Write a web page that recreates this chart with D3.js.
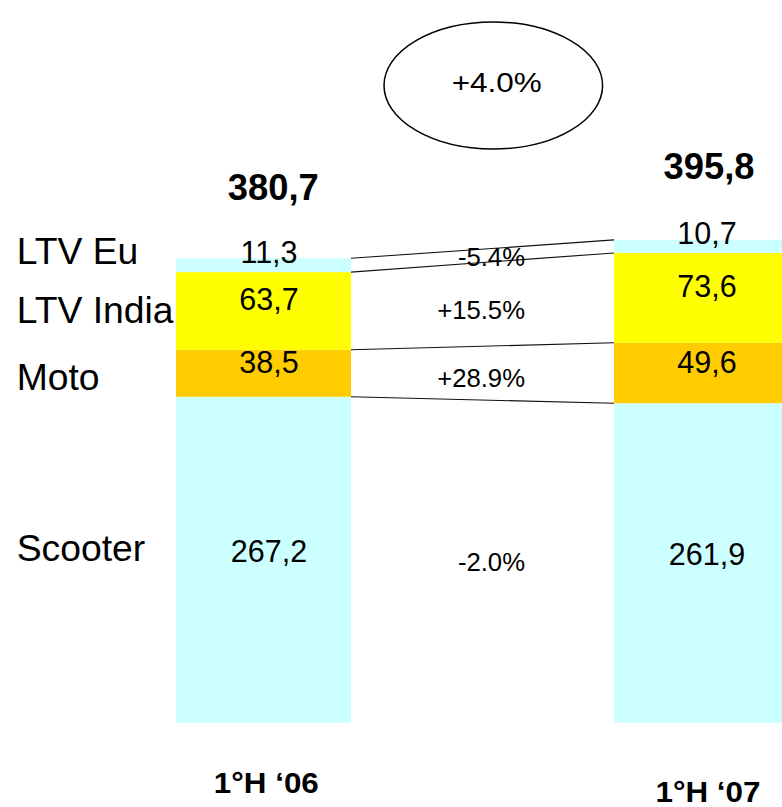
<!DOCTYPE html>
<html>
<head>
<meta charset="utf-8">
<script src="https://cdn.jsdelivr.net/npm/d3@7"></script>
<style>
  html, body { margin: 0; padding: 0; background: #fff; }
  svg { display: block; font-family: Arial, "Liberation Sans", sans-serif; }
</style>
</head>
<body>
<svg id="chart" width="782" height="807"></svg>
<script>
// ---- data ----
const categories = ["1°H \u201806", "1°H \u201807"];
const series = ["Scooter", "Moto", "LTV India", "LTV Eu"];
const scooter = [267.2, 261.9];
const moto = [38.5, 49.6];
const ltvIndia = [63.7, 73.6];
const ltvEu = [11.3, 10.7];
const totals = [380.7, 395.8];
const changes = ["-2.0%", "+28.9%", "+15.5%", "-5.4%"];
const totalChange = "+4.0%";

const colors = { "Scooter": "#CCFFFF", "Moto": "#FFCC00", "LTV India": "#FFFF00", "LTV Eu": "#CCFFFF" };

// ---- layout ----
const svg = d3.select("#chart");
const x = d3.scaleBand().domain(categories).range([176, 789]).paddingInner(263 / 438).paddingOuter(0);
const y = d3.scaleLinear().domain([0, 400]).range([722.7, 722.7 - 1.2198 * 400]);

const rows = categories.map((c, i) => ({
  cat: c, "Scooter": scooter[i], "Moto": moto[i], "LTV India": ltvIndia[i], "LTV Eu": ltvEu[i]
}));
const stacked = d3.stack().keys(series)(rows);

const locale = d3.formatLocale({ decimal: ",", thousands: ".", grouping: [3], currency: ["", ""] });
const fmt = locale.format(".1f");

// bars
const layer = svg.append("g").selectAll("g").data(stacked).join("g")
  .attr("fill", d => colors[d.key]);
layer.selectAll("rect").data(d => d.map(v => ({ v, key: d.key }))).join("rect")
  .attr("x", d => x(d.v.data.cat))
  .attr("width", x.bandwidth())
  .attr("y", d => y(d.v[1]))
  .attr("height", d => y(d.v[0]) - y(d.v[1]));

// connecting lines at the top of each segment
const x1 = x(categories[0]) + x.bandwidth();
const x2 = x(categories[1]);
svg.append("g").selectAll("line").data(stacked).join("line")
  .attr("x1", x1).attr("x2", x2)
  .attr("y1", d => y(d[0][1]))
  .attr("y2", d => y(d[1][1]))
  .attr("stroke", "#111").attr("stroke-width", 1.1);

// value labels
const valDy = { "Scooter": 2, "Moto": 0, "LTV India": -0.5, "LTV Eu": -2.5 };
svg.append("g").selectAll("g").data(stacked).join("g")
  .selectAll("text").data(d => d.map(v => ({ v, key: d.key }))).join("text")
  .attr("x", d => x(d.v.data.cat) + x.bandwidth() / 2 + 5.5)
  .attr("y", d => (y(d.v[0]) + y(d.v[1])) / 2 + valDy[d.key])
  .attr("text-anchor", "middle")
  .attr("font-size", 30.5)
  .attr("fill", "#000")
  .text(d => fmt(d.v[1] - d.v[0]));

// series names (left)
const nameDy = { "Scooter": 1, "Moto": 17, "LTV India": 11.6, "LTV Eu": -1.7 };
svg.append("g").selectAll("text").data(stacked).join("text")
  .attr("x", 16.7)
  .attr("y", d => (y(d[0][0]) + y(d[0][1])) / 2 + nameDy[d.key])
  .attr("font-size", 37.3)
  .attr("fill", "#000")
  .text(d => d.key);

// change labels
const chgDy = { "Scooter": 9.5, "Moto": 13.5, "LTV India": 15, "LTV Eu": 10.5 };
svg.append("g").selectAll("text").data(stacked).join("text")
  .attr("x", 525)
  .attr("y", (d, i) => ((y(d[0][0]) + y(d[0][1])) / 2 + (y(d[1][0]) + y(d[1][1])) / 2) / 2 + chgDy[d.key])
  .attr("text-anchor", "end")
  .attr("font-size", 25.7)
  .attr("fill", "#000")
  .text((d, i) => changes[i]);

// totals
svg.append("g").selectAll("text").data(totals).join("text")
  .attr("x", (d, i) => x(categories[i]) + x.bandwidth() / 2 + [9.8, 7.5][i])
  .attr("y", (d, i) => y(d) - [58.3, 61][i])
  .attr("text-anchor", "middle")
  .attr("font-size", 36)
  .attr("font-weight", "bold")
  .attr("textLength", 91)
  .attr("lengthAdjust", "spacingAndGlyphs")
  .attr("fill", "#000")
  .text(d => fmt(d));

// category labels
svg.append("g").selectAll("text").data(categories).join("text")
  .attr("x", (d, i) => x(d) + x.bandwidth() / 2 + [2.8, 6.5][i])
  .attr("y", (d, i) => y(0) + [70, 79][i])
  .attr("text-anchor", "middle")
  .attr("font-size", 29)
  .attr("font-weight", "bold")
  .attr("textLength", 105)
  .attr("lengthAdjust", "spacingAndGlyphs")
  .attr("fill", "#000")
  .text(d => d);

// total change ellipse
const cx = (x1 + x2) / 2 + 10.8;
svg.append("ellipse")
  .attr("cx", cx).attr("cy", 85.5)
  .attr("rx", 109.3).attr("ry", 63.5)
  .attr("fill", "none").attr("stroke", "#000").attr("stroke-width", 1.5);
svg.append("text")
  .attr("x", cx + 3.4).attr("y", 91.5)
  .attr("text-anchor", "middle")
  .attr("font-size", 28)
  .attr("textLength", 90)
  .attr("lengthAdjust", "spacingAndGlyphs")
  .attr("fill", "#000")
  .text(totalChange);
</script>
</body>
</html>
